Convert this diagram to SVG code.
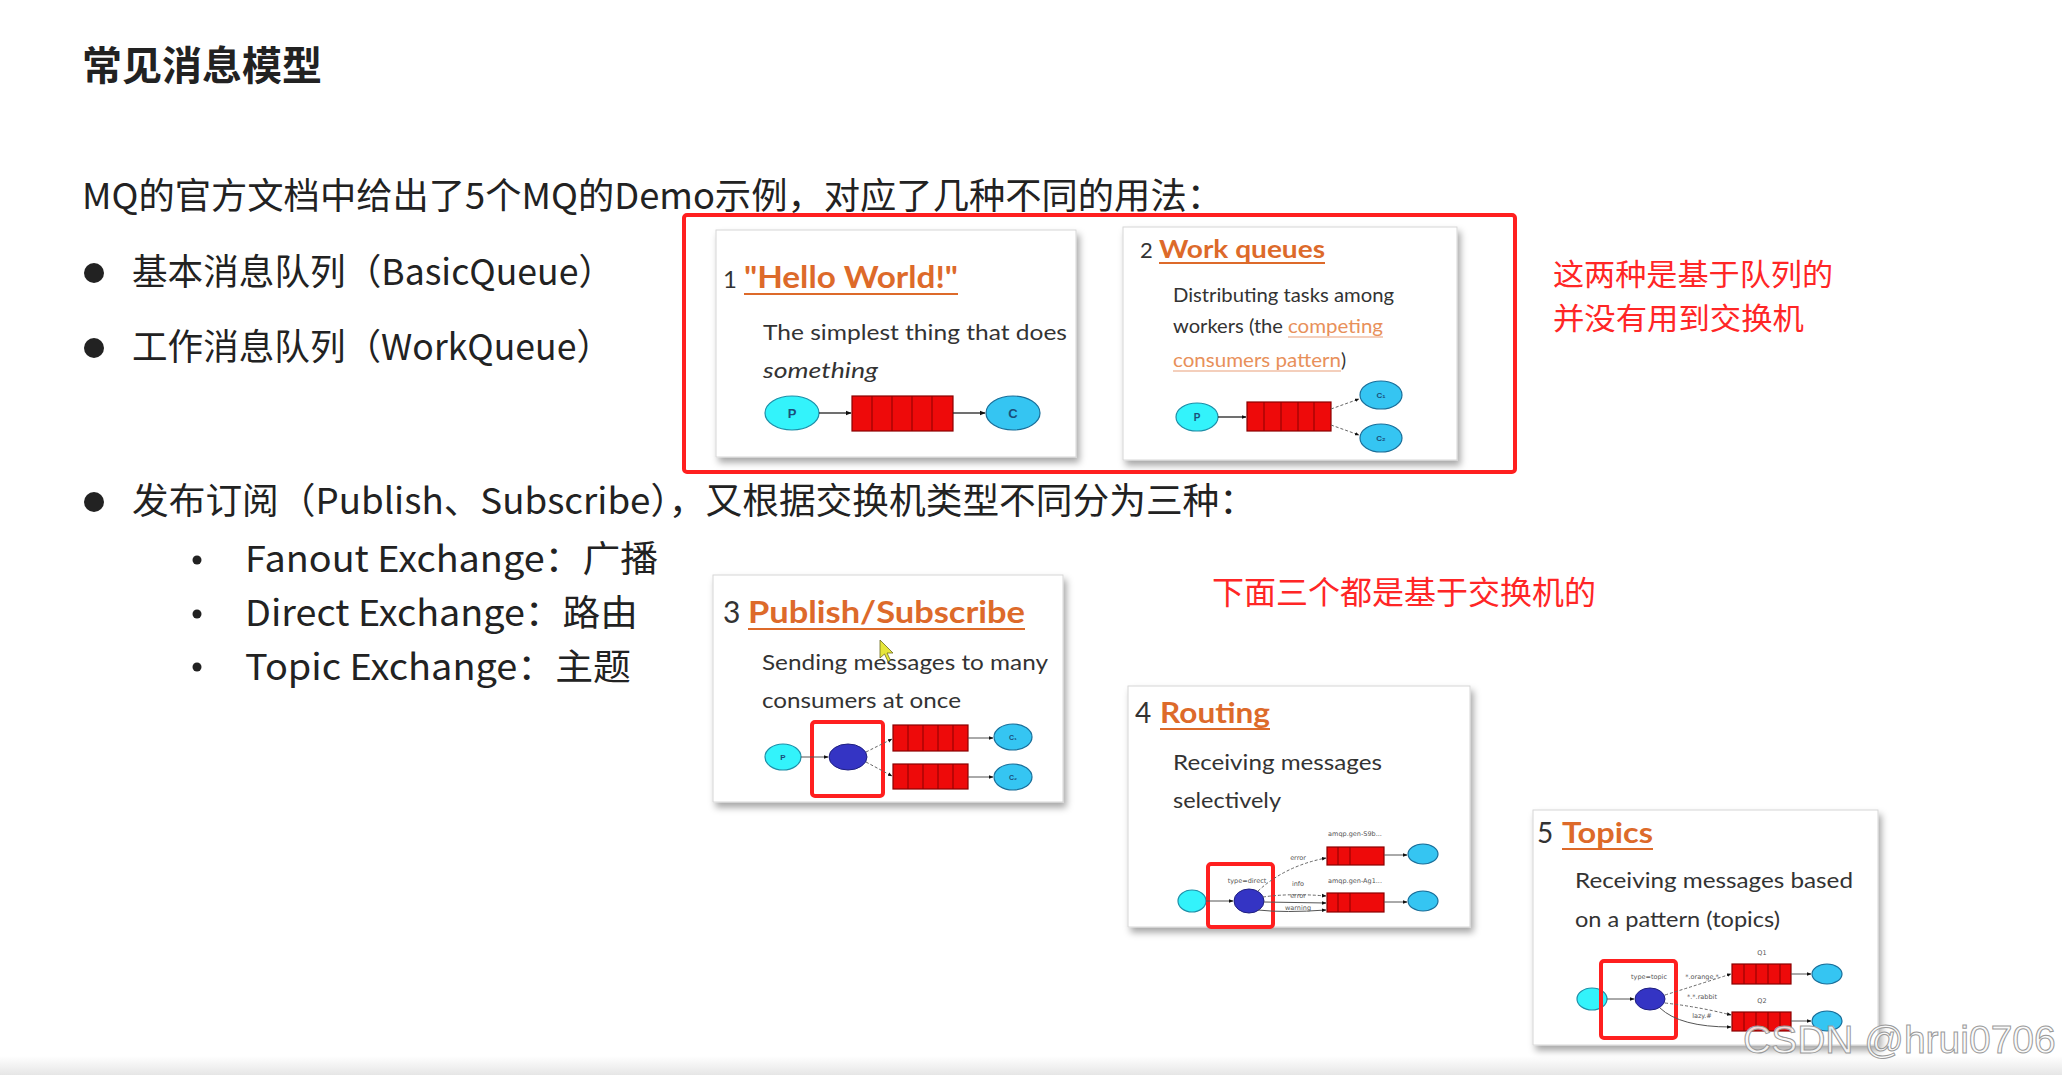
<svg xmlns="http://www.w3.org/2000/svg" width="2062" height="1075" viewBox="0 0 2062 1075">
<defs>
<filter id="sh" x="-10%" y="-10%" width="125%" height="130%">
<feDropShadow dx="3" dy="5" stdDeviation="3.5" flood-color="#000" flood-opacity="0.35"/>
</filter>
<marker id="ah" viewBox="0 0 10 10" refX="9" refY="5" markerWidth="6" markerHeight="6" orient="auto-start-reverse" markerUnits="userSpaceOnUse">
<path d="M0,1 L10,5 L0,9 z" fill="#111"/>
</marker>
<marker id="ahs" viewBox="0 0 10 10" refX="9" refY="5" markerWidth="4.5" markerHeight="4.5" orient="auto" markerUnits="userSpaceOnUse">
<path d="M0,1 L10,5 L0,9 z" fill="#111"/>
</marker>
<linearGradient id="bot" x1="0" y1="0" x2="0" y2="1">
<stop offset="0" stop-color="#ffffff"/>
<stop offset="1" stop-color="#e6e6e6"/>
</linearGradient>
<style>
.cn{font-family:"Noto Sans CJK SC","Noto Sans",sans-serif;fill:#222}
.red{font-family:"Noto Sans CJK SC","Noto Sans",sans-serif;fill:#ff2626;font-size:32px}
.card{fill:#fff;stroke:#d6d6d6;stroke-width:1}
.ct{font-family:Lato,"Open Sans",sans-serif;fill:#333}
.or{font-family:Lato,"Open Sans",sans-serif;fill:#dd6a2a;font-weight:bold}
.lk{fill:#e8905a}
.ul{stroke:#dd6a2a;stroke-width:2}
.ull{stroke:#eaa07a;stroke-width:1.2}
.p{fill:#33f3fb;stroke:#1e8fa8;stroke-width:1.2}
.c{fill:#35c5f2;stroke:#1a6f9a;stroke-width:1.2}
.x{fill:#3434c4;stroke:#1e1e80;stroke-width:1}
.q{fill:#ee0a0a;stroke:#8a0000;stroke-width:1.2}
.qd{stroke:#8a0000;stroke-width:1}
.hl{fill:none;stroke:#ff1f1f;stroke-width:4}
.e{fill:none;stroke:#222;stroke-width:1.3}
.ed{fill:none;stroke:#666;stroke-width:1;stroke-dasharray:3 2}
.es{fill:none;stroke:#555;stroke-width:1}
.lb{font-family:"DejaVu Sans",sans-serif;fill:#555;font-size:6.5px;text-anchor:middle}
.nl{font-family:"Liberation Sans",sans-serif;font-weight:bold;fill:#1a4f7a;text-anchor:middle}
</style>
</defs>
<rect x="0" y="0" width="2062" height="1075" fill="#fff"/>
<rect x="0" y="1056" width="2062" height="19" fill="url(#bot)"/>

<g id="heading">
<text class="cn" x="82" y="80" font-size="40" font-weight="bold">常见消息模型</text>
<text class="cn" x="82" y="209" font-size="36" textLength="1141" lengthAdjust="spacingAndGlyphs">MQ的官方文档中给出了5个MQ的Demo示例，对应了几种不同的用法：</text>
</g>

<g id="bullets">
<circle cx="94" cy="273" r="10" fill="#222"/>
<text class="cn" x="132" y="285" font-size="36" textLength="482" lengthAdjust="spacingAndGlyphs">基本消息队列（BasicQueue）</text>
<circle cx="94" cy="348" r="10" fill="#222"/>
<text class="cn" x="132" y="360" font-size="36" textLength="480" lengthAdjust="spacingAndGlyphs">工作消息队列（WorkQueue）</text>
<circle cx="94" cy="502" r="10" fill="#222"/>
<text class="cn" x="132" y="514" font-size="36" textLength="1124" lengthAdjust="spacingAndGlyphs">发布订阅（Publish、Subscribe），又根据交换机类型不同分为三种：</text>
<circle cx="197" cy="560" r="4.5" fill="#222"/>
<text class="cn" x="245" y="572" font-size="36" textLength="413" lengthAdjust="spacingAndGlyphs">Fanout Exchange：广播</text>
<circle cx="197" cy="614" r="4.5" fill="#222"/>
<text class="cn" x="245" y="626" font-size="36" textLength="393" lengthAdjust="spacingAndGlyphs">Direct Exchange：路由</text>
<circle cx="197" cy="667" r="4.5" fill="#222"/>
<text class="cn" x="245" y="680" font-size="36" textLength="386" lengthAdjust="spacingAndGlyphs">Topic Exchange：主题</text>
</g>

<g id="notes">
<text class="red" x="1553" y="285" font-size="30" style="font-size:30px" textLength="280" lengthAdjust="spacingAndGlyphs">这两种是基于队列的</text>
<text class="red" x="1553" y="329" style="font-size:30px" textLength="251" lengthAdjust="spacingAndGlyphs">并没有用到交换机</text>
<text class="red" x="1212" y="604">下面三个都是基于交换机的</text>
</g>

<g id="card1">
<rect class="card" x="716" y="230" width="360" height="227" filter="url(#sh)"/>
<text class="ct" x="723" y="288" font-size="24">1</text>
<text class="or" x="744" y="288" font-size="30" textLength="214" lengthAdjust="spacingAndGlyphs">"Hello World!"</text>
<line class="ul" x1="744" y1="294" x2="958" y2="294"/>
<text class="ct" x="763" y="340" font-size="22" textLength="304" lengthAdjust="spacingAndGlyphs">The simplest thing that does</text>
<text class="ct" x="763" y="378" font-size="22" font-style="italic" textLength="115" lengthAdjust="spacingAndGlyphs">something</text>
<ellipse class="p" cx="792" cy="413" rx="27" ry="17"/>
<text class="nl" x="792" y="418" font-size="13">P</text>
<rect class="q" x="852" y="396" width="101" height="35"/>
<line class="qd" x1="872" y1="396" x2="872" y2="431"/>
<line class="qd" x1="892" y1="396" x2="892" y2="431"/>
<line class="qd" x1="912" y1="396" x2="912" y2="431"/>
<line class="qd" x1="932" y1="396" x2="932" y2="431"/>
<ellipse class="c" cx="1013" cy="413" rx="27" ry="17"/>
<text class="nl" x="1013" y="418" font-size="13">C</text>
</g>

<g id="card2">
<rect class="card" x="1123" y="227" width="334" height="233" filter="url(#sh)"/>
<text class="ct" x="1140" y="258" font-size="22">2</text>
<text class="or" x="1159" y="258" font-size="25" textLength="166" lengthAdjust="spacingAndGlyphs">Work queues</text>
<line class="ul" x1="1159" y1="263" x2="1325" y2="263"/>
<text class="ct" x="1173" y="302" font-size="19" textLength="221" lengthAdjust="spacingAndGlyphs">Distributing tasks among</text>
<text class="ct" x="1173" y="333" font-size="19" textLength="110" lengthAdjust="spacingAndGlyphs">workers (the</text>
<text class="ct lk" x="1288" y="333" font-size="19" textLength="95" lengthAdjust="spacingAndGlyphs">competing</text>
<line class="ull" x1="1288" y1="337" x2="1383" y2="337"/>
<text class="ct lk" x="1173" y="367" font-size="19" textLength="168" lengthAdjust="spacingAndGlyphs">consumers pattern</text>
<line class="ull" x1="1173" y1="371" x2="1341" y2="371"/>
<text class="ct" x="1341" y="367" font-size="19">)</text>
<ellipse class="p" cx="1197" cy="417" rx="21" ry="14"/>
<text class="nl" x="1197" y="421" font-size="10">P</text>
<rect class="q" x="1247" y="402" width="84" height="29"/>
<line class="qd" x1="1264" y1="402" x2="1264" y2="431"/>
<line class="qd" x1="1281" y1="402" x2="1281" y2="431"/>
<line class="qd" x1="1298" y1="402" x2="1298" y2="431"/>
<line class="qd" x1="1314" y1="402" x2="1314" y2="431"/>
<ellipse class="c" cx="1381" cy="395" rx="21" ry="14"/>
<text class="nl" x="1381" y="398" font-size="8">C₁</text>
<ellipse class="c" cx="1381" cy="438" rx="21" ry="14"/>
<text class="nl" x="1381" y="441" font-size="8">C₂</text>
</g>

<g id="card3">
<rect class="card" x="713" y="575" width="350" height="227" filter="url(#sh)"/>
<text class="ct" x="723" y="623" font-size="30">3</text>
<text class="or" x="748" y="623" font-size="30" textLength="277" lengthAdjust="spacingAndGlyphs">Publish/Subscribe</text>
<line class="ul" x1="748" y1="629" x2="1025" y2="629"/>
<text class="ct" x="762" y="670" font-size="22" textLength="286" lengthAdjust="spacingAndGlyphs">Sending messages to many</text>
<text class="ct" x="762" y="708" font-size="22" textLength="199" lengthAdjust="spacingAndGlyphs">consumers at once</text>
<ellipse class="p" cx="783" cy="757" rx="18" ry="13"/>
<text class="nl" x="783" y="760" font-size="8">P</text>
<ellipse class="x" cx="848" cy="757" rx="19" ry="13"/>
<rect class="q" x="893" y="725" width="75" height="26"/>
<line class="qd" x1="908" y1="725" x2="908" y2="751"/>
<line class="qd" x1="923" y1="725" x2="923" y2="751"/>
<line class="qd" x1="938" y1="725" x2="938" y2="751"/>
<line class="qd" x1="953" y1="725" x2="953" y2="751"/>
<rect class="q" x="893" y="764" width="75" height="25"/>
<line class="qd" x1="908" y1="764" x2="908" y2="789"/>
<line class="qd" x1="923" y1="764" x2="923" y2="789"/>
<line class="qd" x1="938" y1="764" x2="938" y2="789"/>
<line class="qd" x1="953" y1="764" x2="953" y2="789"/>
<ellipse class="c" cx="1013" cy="737" rx="19" ry="13"/>
<text class="nl" x="1013" y="740" font-size="7">C₁</text>
<ellipse class="c" cx="1013" cy="777" rx="19" ry="13"/>
<text class="nl" x="1013" y="780" font-size="7">C₂</text>
<rect class="hl" x="812" y="722" width="71" height="74" rx="3"/>
<path d="M880,640 L880,658 L884.5,654 L888,661.5 L890.5,660.3 L887,653 L893,653 Z" fill="#e6e63a" stroke="#6a6a20" stroke-width="0.8"/>
</g>

<g id="card4">
<rect class="card" x="1128" y="686" width="342" height="241" filter="url(#sh)"/>
<text class="ct" x="1135" y="723" font-size="28">4</text>
<text class="or" x="1160" y="723" font-size="28" textLength="110" lengthAdjust="spacingAndGlyphs">Routing</text>
<line class="ul" x1="1160" y1="729" x2="1270" y2="729"/>
<text class="ct" x="1173" y="770" font-size="21" textLength="209" lengthAdjust="spacingAndGlyphs">Receiving messages</text>
<text class="ct" x="1173" y="808" font-size="21" textLength="108" lengthAdjust="spacingAndGlyphs">selectively</text>
<text class="lb" x="1355" y="836">amqp.gen-S9b...</text>
<text class="lb" x="1355" y="883">amqp.gen-Ag1...</text>
<text class="lb" x="1247" y="883">type=direct</text>
<text class="lb" x="1298" y="860">error</text>
<text class="lb" x="1298" y="886">info</text>
<text class="lb" x="1298" y="898">error</text>
<text class="lb" x="1298" y="910">warning</text>
<ellipse class="p" cx="1192" cy="901" rx="14" ry="11"/>
<ellipse class="x" cx="1249" cy="901" rx="15" ry="12"/>
<rect class="q" x="1327" y="847" width="57" height="18"/>
<line class="qd" x1="1338" y1="847" x2="1338" y2="865"/>
<line class="qd" x1="1350" y1="847" x2="1350" y2="865"/>
<rect class="q" x="1327" y="893" width="57" height="19"/>
<line class="qd" x1="1338" y1="893" x2="1338" y2="912"/>
<line class="qd" x1="1350" y1="893" x2="1350" y2="912"/>
<ellipse class="c" cx="1423" cy="854" rx="15" ry="10"/>
<ellipse class="c" cx="1423" cy="901" rx="15" ry="10"/>
<rect class="hl" x="1208" y="864" width="65" height="63" rx="3"/>
</g>

<g id="card5">
<rect class="card" x="1533" y="810" width="345" height="235" filter="url(#sh)"/>
<text class="ct" x="1537" y="843" font-size="28">5</text>
<text class="or" x="1562" y="843" font-size="28" textLength="91" lengthAdjust="spacingAndGlyphs">Topics</text>
<line class="ul" x1="1562" y1="849" x2="1653" y2="849"/>
<text class="ct" x="1575" y="888" font-size="21" textLength="278" lengthAdjust="spacingAndGlyphs">Receiving messages based</text>
<text class="ct" x="1575" y="927" font-size="21" textLength="205" lengthAdjust="spacingAndGlyphs">on a pattern (topics)</text>
<text class="lb" x="1762" y="955">Q1</text>
<text class="lb" x="1762" y="1003">Q2</text>
<text class="lb" x="1649" y="979">type=topic</text>
<text class="lb" x="1702" y="979">*.orange.*</text>
<text class="lb" x="1702" y="999">*.*.rabbit</text>
<text class="lb" x="1702" y="1018">lazy.#</text>
<ellipse class="p" cx="1592" cy="999" rx="15" ry="11"/>
<ellipse class="x" cx="1650" cy="999" rx="15" ry="11"/>
<rect class="q" x="1732" y="964" width="59" height="20"/>
<line class="qd" x1="1744" y1="964" x2="1744" y2="984"/>
<line class="qd" x1="1756" y1="964" x2="1756" y2="984"/>
<line class="qd" x1="1768" y1="964" x2="1768" y2="984"/>
<line class="qd" x1="1780" y1="964" x2="1780" y2="984"/>
<rect class="q" x="1732" y="1012" width="59" height="19"/>
<line class="qd" x1="1744" y1="1012" x2="1744" y2="1031"/>
<line class="qd" x1="1756" y1="1012" x2="1756" y2="1031"/>
<line class="qd" x1="1768" y1="1012" x2="1768" y2="1031"/>
<line class="qd" x1="1780" y1="1012" x2="1780" y2="1031"/>
<ellipse class="c" cx="1827" cy="974" rx="15" ry="10"/>
<ellipse class="c" cx="1827" cy="1021" rx="15" ry="10"/>
<rect class="hl" x="1601" y="961" width="75" height="77" rx="3"/>
</g>

<g id="connectors">
<line class="e" x1="819" y1="413" x2="851" y2="413" marker-end="url(#ah)"/>
<line class="e" x1="953" y1="413" x2="985" y2="413" marker-end="url(#ah)"/>
<line class="e" x1="1218" y1="417" x2="1246" y2="417" marker-end="url(#ahs)"/>
<line class="ed" x1="1331" y1="409" x2="1359" y2="399" marker-end="url(#ahs)"/>
<line class="ed" x1="1331" y1="425" x2="1359" y2="435" marker-end="url(#ahs)"/>
<line class="es" x1="801" y1="757" x2="828" y2="757" marker-end="url(#ahs)"/>
<line class="ed" x1="866" y1="752" x2="892" y2="739" marker-end="url(#ahs)"/>
<line class="ed" x1="866" y1="762" x2="892" y2="776" marker-end="url(#ahs)"/>
<line class="es" x1="968" y1="738" x2="993" y2="738" marker-end="url(#ahs)"/>
<line class="es" x1="968" y1="777" x2="993" y2="777" marker-end="url(#ahs)"/>
<line class="es" x1="1206" y1="901" x2="1233" y2="901" marker-end="url(#ahs)"/>
<path class="ed" d="M1258,891 Q1285,866 1326,858" marker-end="url(#ahs)"/>
<path class="ed" d="M1263,897 Q1290,893 1326,896" marker-end="url(#ahs)"/>
<path class="es" d="M1264,902 L1326,903" marker-end="url(#ahs)"/>
<path class="es" d="M1258,910 Q1285,913 1326,910" marker-end="url(#ahs)"/>
<line class="es" x1="1384" y1="855" x2="1407" y2="855" marker-end="url(#ahs)"/>
<line class="es" x1="1384" y1="902" x2="1407" y2="902" marker-end="url(#ahs)"/>
<line class="es" x1="1607" y1="999" x2="1634" y2="999" marker-end="url(#ahs)"/>
<path class="ed" d="M1665,995 Q1700,984 1731,974" marker-end="url(#ahs)"/>
<path class="ed" d="M1665,1003 Q1700,1007 1731,1015" marker-end="url(#ahs)"/>
<path class="es" d="M1660,1008 Q1680,1027 1731,1027" marker-end="url(#ahs)"/>
<line class="es" x1="1791" y1="974" x2="1811" y2="974" marker-end="url(#ahs)"/>
<line class="es" x1="1791" y1="1021" x2="1811" y2="1021" marker-end="url(#ahs)"/>
</g>

<rect id="scope" class="hl" x="684" y="215" width="831" height="257" rx="3"/>

<text x="1743" y="1053" font-family="'Liberation Sans',Arial,sans-serif" font-size="39" fill="#fafafa" fill-opacity="0.85" stroke="#9a9a9a" stroke-width="1">CSDN @hrui0706</text>
</svg>
